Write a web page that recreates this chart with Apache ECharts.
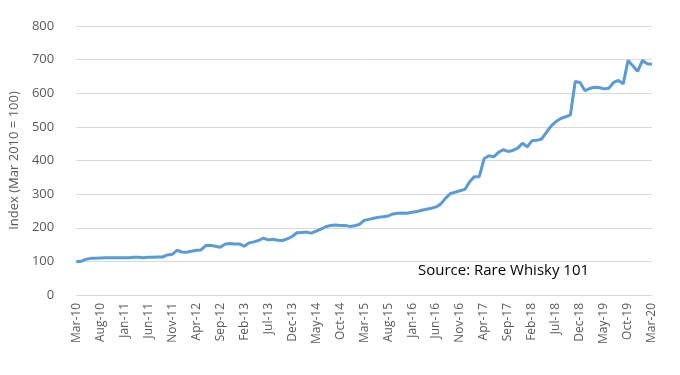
<!DOCTYPE html>
<html>
<head>
<meta charset="utf-8">
<script src="https://cdn.jsdelivr.net/npm/echarts@6/dist/echarts.min.js"></script>
<style>html,body{margin:0;padding:0;background:#fff}#c{width:680px;height:375px}</style>
</head>
<body>
<div id="c"></div>
<script>
const monthNames = ['Jan','Feb','Mar','Apr','May','Jun','Jul','Aug','Sep','Oct','Nov','Dec'];
const categories = [];
for (let k = 0; k < 121; k++) {
  const m = (2 + k) % 12;
  const y = 10 + Math.floor((2 + k) / 12);
  categories.push(monthNames[m] + '-' + String(y).padStart(2, '0'));
}
const indexValues = [
  100,100,106,109,109,110,111,111,111,111,
  111,111,112,112,111,112,112,113,113,119,
  121,133,128,127,130,133,134,147,148,145,
  142,151,153,152,152,145,155,158,162,169,
  164,166,163,162,167,174,185,186,187,184,
  190,196,203,207,208,207,207,204,206,210,
  222,225,228,231,233,235,241,243,244,243,
  246,248,252,255,258,262,271,288,302,306,
  310,314,337,352,352,405,414,411,424,432,
  427,430,437,451,441,459,460,464,484,503,
  516,525,530,536,635,632,608,614,618,617,
  613,615,632,638,628,697,682,665,697,688,
  686
];
const yTicks = [0,100,200,300,400,500,600,700,800];
const sourceText = 'Source: Rare Whisky 101';
const yName = 'Index (Mar 2010 = 100)';

const font = '"Open Sans", "Liberation Sans", sans-serif';
const chart = echarts.init(document.getElementById('c'));
chart.setOption({
  animation: false,
  grid: { left: 67, right: 28, top: 26, bottom: 80, containLabel: false },
  xAxis: {
    type: 'category',
    data: categories,
    boundaryGap: false,
    axisLine: { lineStyle: { color: '#d9d9d9', width: 1 } },
    axisTick: { show: false },
    axisLabel: { interval: 4, rotate: 90, margin: 8, color: '#595959', fontSize: 12, fontFamily: font }
  },
  yAxis: {
    type: 'value',
    min: yTicks[0], max: yTicks[yTicks.length - 1], interval: 100,
    name: yName,
    nameLocation: 'middle',
    nameGap: 42,
    nameTextStyle: { color: '#595959', fontSize: 13, fontFamily: font },
    axisLine: { show: false },
    axisTick: { show: false },
    splitLine: { lineStyle: { color: '#d9d9d9', width: 1 } },
    axisLabel: { margin: 22, color: '#595959', fontSize: 13, fontFamily: font }
  },
  series: [{
    type: 'line',
    data: indexValues,
    showSymbol: false,
    smooth: false,
    lineStyle: { color: '#5b9bd5', width: 3 },
    itemStyle: { color: '#5b9bd5' }
  }],
  graphic: [{
    type: 'text',
    left: 418, top: 263,
    style: { text: sourceText, fill: '#000', font: '15px ' + font }
  }]
});
</script>
</body>
</html>
